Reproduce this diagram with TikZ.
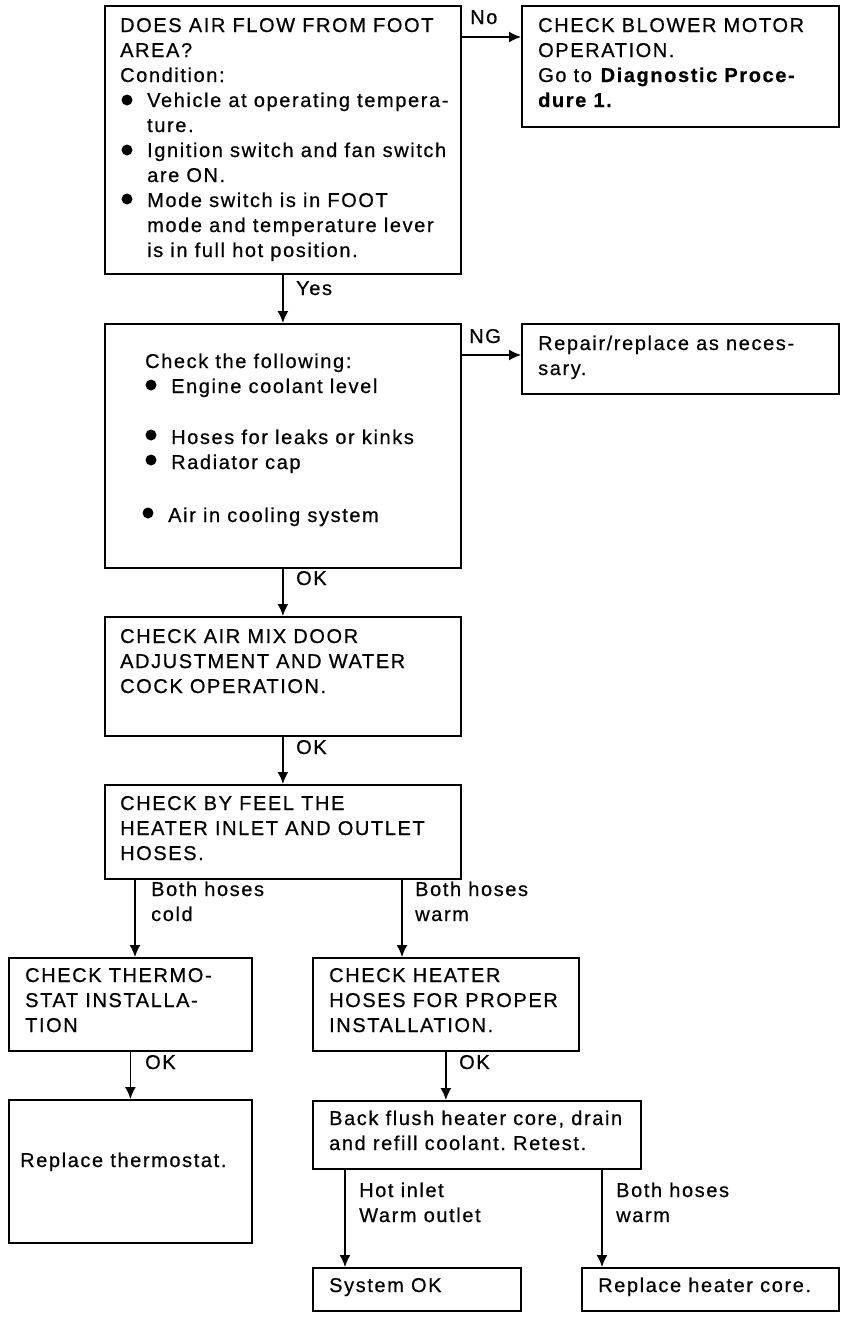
\documentclass[tikz,border=0pt]{standalone}
\usepackage{fontspec}
\setmainfont{Liberation Sans}[LetterSpace=8,FakeBold=0.6]
\usetikzlibrary{arrows.meta}
\frenchspacing
\tikzset{
  box/.style={draw, line width=1.8pt, anchor=north west, inner sep=0pt},
  txt/.style={anchor=base west, inner sep=0pt, font=\fontsize{20pt}{25pt}\selectfont},
  arr/.style={line width=1.5pt, -{Latex[length=12pt,width=11pt]}},
  blt/.style={fill=black},
}
\newcommand{\tl}[1]{\parbox[t]{420pt}{\fontsize{20pt}{25pt}\selectfont\frenchspacing #1}}
\newcommand{\ind}{\hspace*{27pt}}
\begin{document}
\begin{tikzpicture}[x=1pt,y=-1pt]
\useasboundingbox[fill=white] (0,0) rectangle (864,1318);
% boxes
\node[box, minimum width=356pt, minimum height=268pt] (A) at (104,5) {};
\node[box, minimum width=317pt, minimum height=121pt] (B) at (521,5) {};
\node[box, minimum width=356pt, minimum height=244pt] (C) at (104,323) {};
\node[box, minimum width=317pt, minimum height=70pt] (D) at (521,323) {};
\node[box, minimum width=356pt, minimum height=119pt] (E) at (104,616) {};
\node[box, minimum width=356pt, minimum height=94pt] (F) at (104,784) {};
\node[box, minimum width=243pt, minimum height=93pt] (G) at (8,957) {};
\node[box, minimum width=266pt, minimum height=93pt] (H) at (312,957) {};
\node[box, minimum width=243pt, minimum height=143pt] (I) at (8,1099) {};
\node[box, minimum width=328pt, minimum height=68pt] (J) at (312,1100) {};
\node[box, minimum width=208pt, minimum height=43pt] (K) at (312,1267) {};
\node[box, minimum width=257pt, minimum height=43pt] (L) at (581,1267) {};
% texts
\node[txt] (tA) at (120,32) {\tl{DOES AIR FLOW FROM FOOT\\AREA?\\Condition:\\\ind Vehicle at operating tempera-\\\ind ture.\\\ind Ignition switch and fan switch\\\ind are ON.\\\ind Mode switch is in FOOT\\\ind mode and temperature lever\\\ind is in full hot position.}};
\node[txt] (tB) at (538,32) {\tl{CHECK BLOWER MOTOR\\OPERATION.\\Go to \textbf{Diagnostic Proce-}\\\textbf{dure 1.}}};
\node[txt] (tC0) at (145,368) {\tl{Check the following:\\\hspace*{26pt}Engine coolant level}};
\node[txt] (tC1) at (171,444) {\tl{Hoses for leaks or kinks\\Radiator cap}};
\node[txt] (tC2) at (168,522) {\tl{Air in cooling system}};
\node[txt] (tD) at (538,350) {\tl{Repair/replace as neces-\\sary.}};
\node[txt] (tE) at (120,643) {\tl{CHECK AIR MIX DOOR\\ADJUSTMENT AND WATER\\COCK OPERATION.}};
\node[txt] (tF) at (120,810) {\tl{CHECK BY FEEL THE\\HEATER INLET AND OUTLET\\HOSES.}};
\node[txt] (tG) at (25,982) {\tl{CHECK THERMO-\\STAT INSTALLA-\\TION}};
\node[txt] (tH) at (329,982) {\tl{CHECK HEATER\\HOSES FOR PROPER\\INSTALLATION.}};
\node[txt] (tI) at (20,1167) {\tl{Replace thermostat.}};
\node[txt] (tJ) at (329,1125) {\tl{Back flush heater core, drain\\and refill coolant. Retest.}};
\node[txt] (tK) at (329,1292) {\tl{System OK}};
\node[txt] (tL) at (598,1292) {\tl{Replace heater core.}};
% bullets
\fill[blt] (127,100) circle (5.5pt);
\fill[blt] (127,150) circle (5.5pt);
\fill[blt] (127,199) circle (5.5pt);
\fill[blt] (151,385) circle (5.5pt);
\fill[blt] (151,435) circle (5.5pt);
\fill[blt] (151,460) circle (5.5pt);
\fill[blt] (148,513) circle (5.5pt);
% connector coordinates
\coordinate (yNo) at (0,37);
\coordinate (yNG) at (0,355);
\coordinate (xFG) at (135,0);
\coordinate (xFH) at (402,0);
\coordinate (xJK) at (345,0);
\coordinate (xJL) at (602,0);
% connectors
\draw[arr] (A.east |- yNo) -- (B.west |- yNo);
\draw[arr] (A.south) -- (C.north);
\draw[arr] (C.east |- yNG) -- (D.west |- yNG);
\draw[arr] (C.south) -- (E.north);
\draw[arr] (E.south) -- (F.north);
\draw[arr] (F.south -| xFG) -- (G.north -| xFG);
\draw[arr] (F.south -| xFH) -- (H.north -| xFH);
\draw[arr] (G.south) -- (I.north);
\draw[arr] (H.south) -- (J.north -| H.south);
\draw[arr] (J.south -| xJK) -- (K.north -| xJK);
\draw[arr] (J.south -| xJL) -- (L.north -| xJL);
% labels
\node[txt] (lNo) at (470,24) {No};
\node[txt] (lYes) at (296,295) {Yes};
\node[txt] (lNG) at (469,343) {NG};
\node[txt] (lOK1) at (296,585) {OK};
\node[txt] (lOK2) at (296,754) {OK};
\node[txt] (lBC) at (151,896) {\tl{Both hoses\\cold}};
\node[txt] (lBW) at (415,896) {\tl{Both hoses\\warm}};
\node[txt] (lOK3) at (145,1069) {OK};
\node[txt] (lOK4) at (459,1069) {OK};
\node[txt] (lHI) at (359,1197) {\tl{Hot inlet\\Warm outlet}};
\node[txt] (lBW2) at (616,1197) {\tl{Both hoses\\warm}};
\end{tikzpicture}
\end{document}
